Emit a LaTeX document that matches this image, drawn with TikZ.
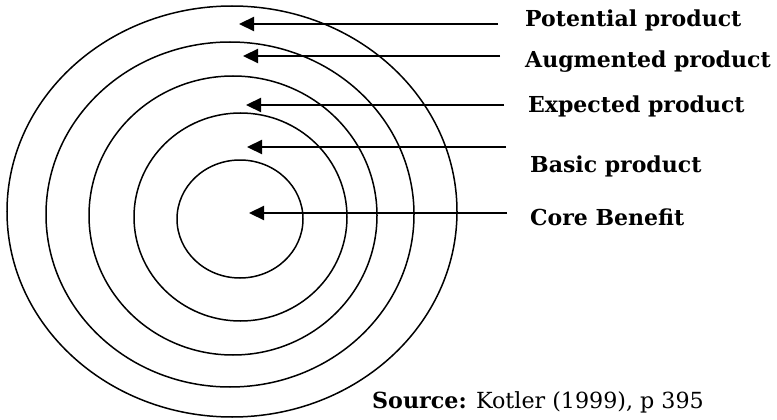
\documentclass[tikz,border=0pt]{standalone}
\usepackage{fontspec}
\setmainfont{DejaVu Serif}
\usetikzlibrary{arrows.meta,shapes.geometric}
\tikzset{
  ring/.style={draw=black, line width=1.5pt, ellipse, inner sep=0pt},
  pointer/.style={line width=2.2pt, -{Triangle[length=15pt,width=14pt]}},
  lab/.style={anchor=base west, inner sep=0pt, font=\fontsize{22}{24}\selectfont\bfseries},
  src/.style={anchor=base west, inner sep=0pt, font=\fontsize{22.2}{24}\selectfont}
}
\begin{document}
\begin{tikzpicture}[x=1pt,y=-1pt]
\useasboundingbox (0,0) rectangle (777,420);
% rings
\node[ring, minimum width=450pt, minimum height=411pt] (r5) at (232,211.5) {};
\node[ring, minimum width=368pt, minimum height=345pt] (r4) at (230,214.5) {};
\node[ring, minimum width=288pt, minimum height=279pt] (r3) at (233,215.5) {};
\node[ring, minimum width=213pt, minimum height=208pt] (r2) at (240.5,217) {};
\node[ring, minimum width=126pt, minimum height=118pt] (r1) at (240,219) {};
% labels
\node[lab] (l5) at (525,27) {Potential product};
\node[lab] (l4) at (525,67) {Augmented product};
\node[lab] (l3) at (528,113) {Expected product};
\node[lab] (l2) at (530,172) {Basic product};
\node[lab] (l1) at (530,225) {Core Benefit};
\node[src] (s) at (372,408) {\textbf{Source:} Kotler (1999), p 395};
% arrow ends
\coordinate (a5) at (498,24);  \coordinate (t5) at (239,24);
\coordinate (a4) at (500,56);  \coordinate (t4) at (243,56);
\coordinate (a3) at (504,105); \coordinate (t3) at (246,105);
\coordinate (a2) at (506,147); \coordinate (t2) at (247,147);
\coordinate (a1) at (507,213); \coordinate (t1) at (249,213);
\draw[pointer] (a5) -- (t5);
\draw[pointer] (a4) -- (t4);
\draw[pointer] (a3) -- (t3);
\draw[pointer] (a2) -- (t2);
\draw[pointer] (a1) -- (t1);
\end{tikzpicture}
\end{document}
